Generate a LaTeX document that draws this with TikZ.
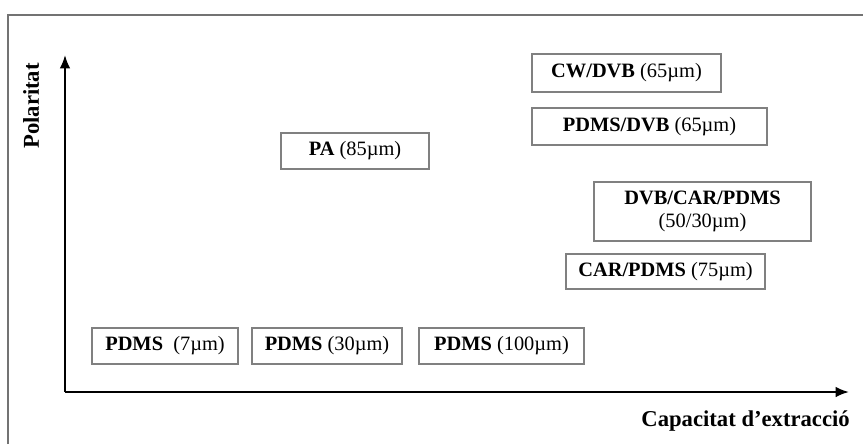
\documentclass[tikz,border=0pt]{standalone}
\usepackage{fontspec}
\setmainfont{Liberation Serif}
\usetikzlibrary{arrows.meta}
\tikzset{
  fibre/.style={draw=black!50, line width=1.3pt, fill=white, inner sep=0pt,
    font=\fontsize{15.3}{17}\selectfont, align=center},
  axis/.style={line width=1.6pt, -{Latex[length=10pt,width=8pt]}},
  axlabel/.style={font=\fontsize{17}{19}\selectfont\bfseries, inner sep=0pt},
}
\begin{document}
\begin{tikzpicture}[x=0.75pt,y=-0.75pt]
\useasboundingbox (0,0) rectangle (863,444);
% outer frame (partially visible)
\draw[black!55, line width=1.2pt] (8,444) -- (8,15) -- (870,15);
% axes
\coordinate (o) at (65,392);
\coordinate (ytop) at (65,55);
\coordinate (xend) at (849,392);
\draw[axis] (o) -- (ytop);
\draw[axis] (o) -- (xend);
\node[axlabel, rotate=90] (ylab) at (31,106) {Polaritat};
\node[axlabel, anchor=east] (xlab) at (850,421) {Capacitat d’extracció};
% fibres
\node[fibre, minimum width=146*0.75pt, minimum height=36*0.75pt] (pdms7) at (165,346) {\textbf{PDMS}\ \ (7µm)};
\node[fibre, minimum width=150*0.75pt, minimum height=36*0.75pt] (pdms30) at (327,346) {\textbf{PDMS} (30µm)};
\node[fibre, minimum width=165*0.75pt, minimum height=36*0.75pt] (pdms100) at (501.5,346) {\textbf{PDMS} (100µm)};
\node[fibre, minimum width=148*0.75pt, minimum height=36*0.75pt] (pa) at (355,151) {\textbf{PA} (85µm)};
\node[fibre, minimum width=189*0.75pt, minimum height=38*0.75pt] (cwdvb) at (626.5,73) {\textbf{CW/DVB} (65µm)};
\node[fibre, minimum width=235*0.75pt, minimum height=37*0.75pt] (pdmsdvb) at (649.5,126.5) {\textbf{PDMS/DVB} (65µm)};
\node[fibre, minimum width=217*0.75pt, minimum height=59*0.75pt] (dvbcar) at (702.5,211.5) {\textbf{DVB/CAR/PDMS}\\(50/30µm)};
\node[fibre, minimum width=199*0.75pt, minimum height=35*0.75pt] (carpdms) at (665.5,271.5) {\textbf{CAR/PDMS} (75µm)};
\end{tikzpicture}
\end{document}
